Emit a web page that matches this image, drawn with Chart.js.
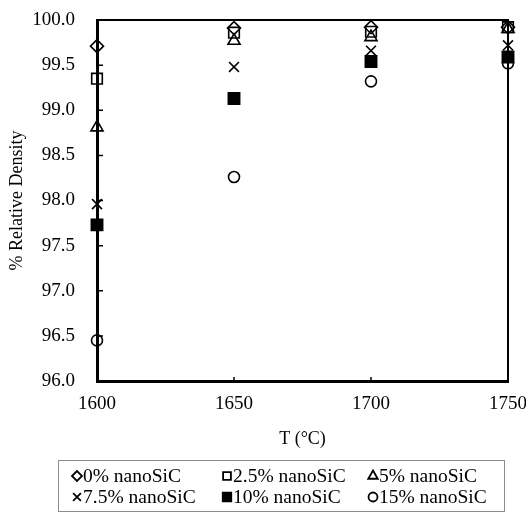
<!DOCTYPE html>
<html><head><meta charset="utf-8">
<script src="https://cdn.jsdelivr.net/npm/chart.js@4/dist/chart.umd.min.js"></script>
<style>html,body{margin:0;padding:0;background:#fff}#wrap{width:526px;height:513px;position:relative}</style>
</head><body><div id="wrap"><canvas id="c" width="526" height="513"></canvas></div>
<script>
const temperatures = [1600, 1650, 1700, 1750];
const seriesNames = ['0% nanoSiC', '2.5% nanoSiC', '5% nanoSiC', '7.5% nanoSiC', '10% nanoSiC', '15% nanoSiC'];
const density0 = [99.71, 99.91, 99.92, 99.92];
const density2_5 = [99.35, 99.86, 99.87, 99.92];
const density5 = [98.81, 99.77, 99.81, 99.90];
const density7_5 = [97.96, 99.48, 99.66, 99.72];
const density10 = [97.73, 99.13, 99.54, 99.59];
const density15 = [96.45, 98.26, 99.32, 99.52];
const xTickValues = [1600, 1650, 1700, 1750];
const yTickValues = [96.0, 96.5, 97.0, 97.5, 98.0, 98.5, 99.0, 99.5, 100.0];

const seriesValues = [density0, density2_5, density5, density7_5, density10, density15];
const styles = [
  {pointStyle: 'rectRot', radius: 6.5, fill: 'rgba(0,0,0,0)', lr: 5},
  {pointStyle: 'rect', radius: 7.5, fill: 'rgba(0,0,0,0)', lr: 5.5},
  {pointStyle: 'triangle', radius: 7, fill: 'rgba(0,0,0,0)', lr: 5.5},
  {pointStyle: 'crossRot', radius: 7, fill: 'rgba(0,0,0,0)', lr: 5.5},
  {pointStyle: 'rect', radius: 8, fill: '#000', lr: 6},
  {pointStyle: 'circle', radius: 5.5, fill: 'rgba(0,0,0,0)', lr: 4.5}
];

Chart.defaults.font.family = '"Liberation Serif", "Times New Roman", serif';
Chart.defaults.color = '#000';

const datasets = seriesNames.map((name, i) => ({
  label: name,
  data: temperatures.map((t, j) => ({x: t, y: seriesValues[i][j]})),
  showLine: false,
  pointStyle: styles[i].pointStyle,
  pointRadius: styles[i].radius,
  pointHoverRadius: styles[i].radius,
  pointBorderWidth: 1.6,
  pointBorderColor: '#000',
  pointBackgroundColor: styles[i].fill,
  borderColor: '#000',
  backgroundColor: styles[i].fill,
  clip: false
}));

const framePlugin = {
  id: 'frame',
  afterDatasetsDraw(chart) {
    const {ctx, chartArea: a, scales} = chart;
    ctx.save();
    ctx.strokeStyle = '#000';
    ctx.lineWidth = 2;
    ctx.beginPath();
    ctx.moveTo(a.left, a.top); ctx.lineTo(a.right, a.top); ctx.lineTo(a.right, a.bottom);
    ctx.stroke();
    ctx.lineWidth = 1.5;
    ctx.beginPath();
    scales.y.ticks.forEach(t => {
      const y = scales.y.getPixelForValue(t.value);
      ctx.moveTo(a.left, y); ctx.lineTo(a.left + 6, y);
    });
    scales.x.ticks.forEach(t => {
      const x = scales.x.getPixelForValue(t.value);
      ctx.moveTo(x, a.bottom); ctx.lineTo(x, a.bottom - 4);
    });
    ctx.stroke();
    ctx.restore();
  }
};

function drawMarker(ctx, st, x, y, r) {
  const opts = {pointStyle: st.pointStyle, radius: r, rotation: 0, borderWidth: 1.8};
  ctx.strokeStyle = '#000';
  ctx.fillStyle = st.fill;
  ctx.lineWidth = 1.8;
  Chart.helpers.drawPoint(ctx, opts, x, y);
}

const legendPlugin = {
  id: 'boxLegend',
  afterDraw(chart) {
    const ctx = chart.ctx;
    ctx.save();
    ctx.strokeStyle = '#8c8c8c';
    ctx.lineWidth = 1;
    ctx.strokeRect(58.5, 460.5, 446, 51);
    const colX = [77, 227, 373];
    const rowY = [476, 497];
    ctx.font = '19.5px "Liberation Serif", "Times New Roman", serif';
    ctx.textBaseline = 'middle';
    ctx.textAlign = 'left';
    chart.data.datasets.forEach((ds, i) => {
      const cx = colX[i % 3], cy = rowY[Math.floor(i / 3)];
      drawMarker(ctx, styles[i], cx, cy, styles[i].lr);
      ctx.fillStyle = '#000';
      ctx.fillText(ds.label, cx + 6, cy + 1);
    });
    ctx.restore();
  }
};

new Chart(document.getElementById('c'), {
  type: 'scatter',
  data: {datasets},
  options: {
    responsive: false,
    animation: false,
    devicePixelRatio: 1,
    layout: {padding: {left: 0, right: 18, top: 20, bottom: 62}},
    plugins: {legend: {display: false}, tooltip: {enabled: false}},
    scales: {
      x: {
        type: 'linear', min: 1600, max: 1750,
        afterBuildTicks: s => { s.ticks = xTickValues.map(v => ({value: v})); },
        afterFit: s => { s.height = 70; s.paddingLeft = 0; s.paddingRight = 0; },
        ticks: {font: {size: 19}, padding: 12, maxRotation: 0, callback: v => String(v)},
        grid: {display: false, drawTicks: false},
        border: {display: true, width: 3, color: '#000'},
        title: {display: true, text: 'T (°C)', font: {size: 18}, padding: {top: 0, bottom: 1}}
      },
      y: {
        type: 'linear', min: 96, max: 100,
        afterBuildTicks: s => { s.ticks = yTickValues.map(v => ({value: v})); },
        afterFit: s => { s.width = 97; s.paddingTop = 0; s.paddingBottom = 0; },
        ticks: {font: {size: 19}, padding: 22, callback: v => Number(v).toFixed(1)},
        grid: {display: false, drawTicks: false},
        border: {display: true, width: 3, color: '#000'},
        title: {display: true, text: '% Relative Density', font: {size: 18}, padding: {top: 6, bottom: 0}}
      }
    }
  },
  plugins: [framePlugin, legendPlugin]
});
</script>
</body></html>
